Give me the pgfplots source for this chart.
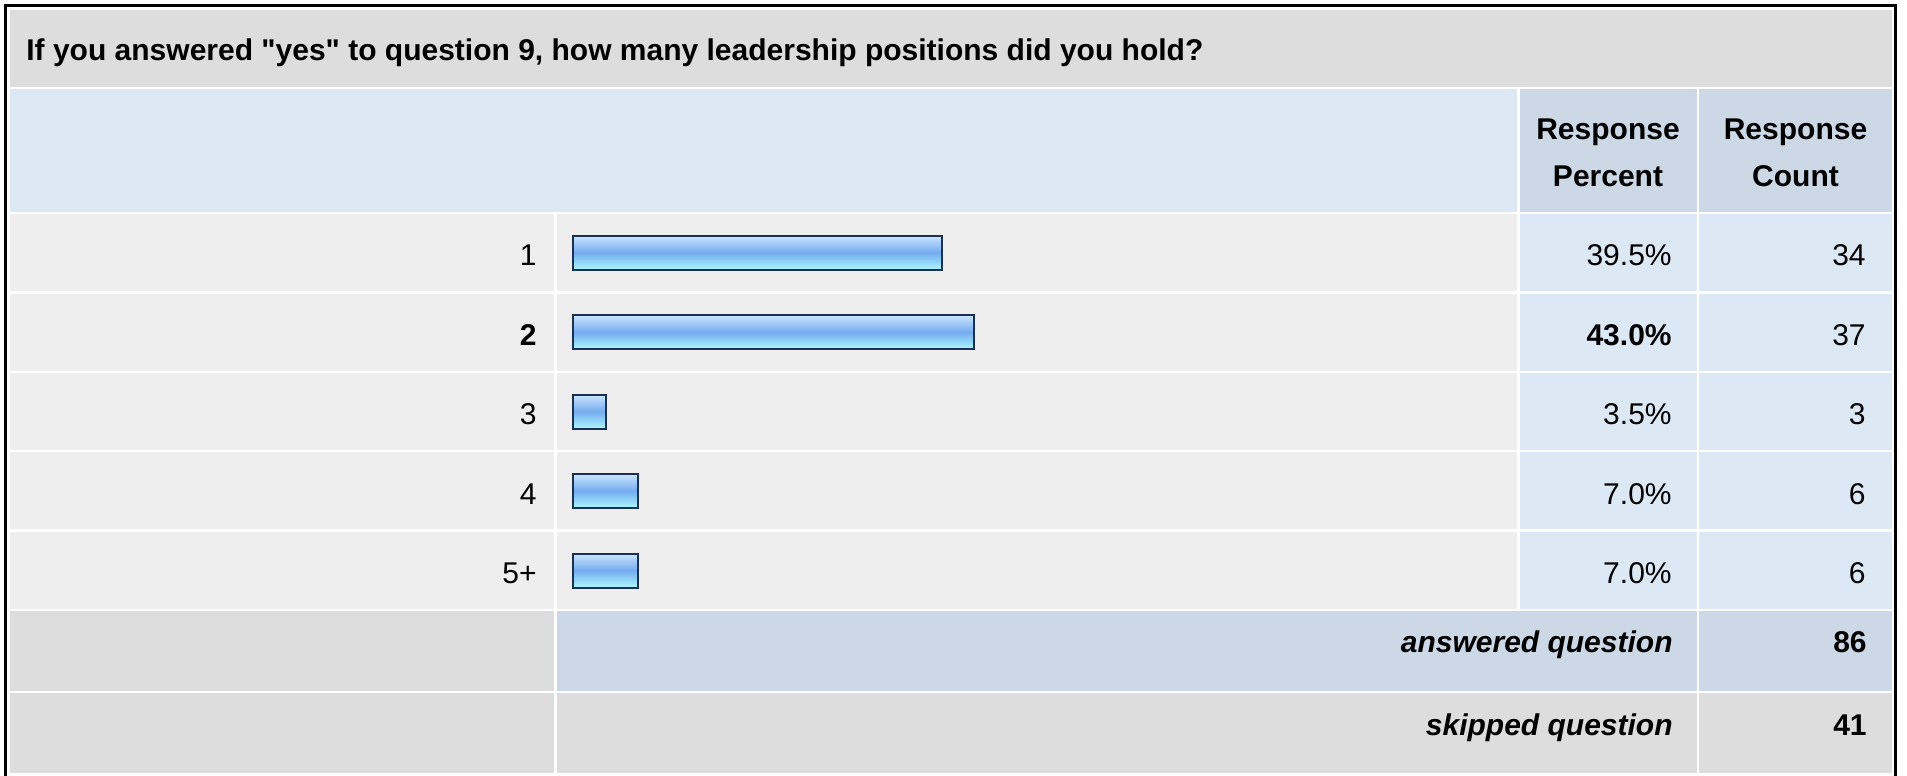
\documentclass[border=0pt]{standalone}
\usepackage{pgfplots}
\pgfplotsset{compat=1.18}
\usepackage{fontspec}
\setmainfont{Liberation Sans}[Ligatures=TeXOff]
\definecolor{titlegray}{HTML}{DDDDDD}
\definecolor{rowgray}{HTML}{EEEEEE}
\definecolor{lblue}{HTML}{DDE8F5}
\definecolor{mblue}{HTML}{CCD8E6}
\definecolor{barborder}{HTML}{1B3152}
\definecolor{bartop}{HTML}{CCE6FF}
\definecolor{barmid}{HTML}{74ACEF}
\definecolor{barbot}{HTML}{ACF6FF}
\newcommand\tf{\fontsize{15pt}{18pt}\selectfont}
\pgfplotsset{mybar/.style={xbar, bar shift=0pt, draw=barborder, line width=1pt,
    top color=bartop, bottom color=barbot, middle color=barmid, mark=none}}

\begin{document}
\begin{tikzpicture}
\begin{scope}[x=0.5pt,y=-0.5pt]
\fill[white] (0,0) rectangle (1907,776);
% frame
\fill[black] (4,4) rectangle (7,776);
\fill[black] (4,4) rectangle (1897,7);
\fill[black] (1894,4) rectangle (1897,776);
% title
\fill[titlegray] (10,10) rectangle (1892,87);
% header
\fill[lblue] (10,89) rectangle (1517,212);
\fill[mblue] (1520,89) rectangle (1697,212);
\fill[mblue] (1699,89) rectangle (1892,212);
% rows
\foreach \t/\b in {214/291,294/371,373/450,452/529,532/609}{
  \fill[rowgray] (10,\t) rectangle (554,\b);
  \fill[rowgray] (557,\t) rectangle (1517,\b);
  \fill[lblue] (1520,\t) rectangle (1697,\b);
  \fill[lblue] (1699,\t) rectangle (1892,\b);
}
% answered
\fill[titlegray] (10,611) rectangle (554,691);
\fill[mblue] (557,611) rectangle (1697,691);
\fill[mblue] (1699,611) rectangle (1892,691);
% skipped
\fill[titlegray] (10,693) rectangle (554,773);
\fill[titlegray] (557,693) rectangle (1697,773);
\fill[titlegray] (1699,693) rectangle (1892,773);
% texts
\node[anchor=base west, inner sep=0pt, font=\bfseries\tf] at (26,61) {If you answered "yes" to question 9, how many leadership positions did you hold?};
\node[anchor=base, inner sep=0pt, font=\bfseries\tf] at (1608,139.3) {Response};
\node[anchor=base, inner sep=0pt, font=\bfseries\tf] at (1608,186) {Percent};
\node[anchor=base, inner sep=0pt, font=\bfseries\tf] at (1795.5,139.3) {Response};
\node[anchor=base, inner sep=0pt, font=\bfseries\tf] at (1795.5,186) {Count};
\foreach \y/\p/\c in {265.7/39.5\%/34, 345.5/\textbf{43.0\%}/37, 424.5/3.5\%/3, 504/7.0\%/6, 583.5/7.0\%/6}{
  \node[anchor=base east, inner sep=0pt, font=\tf] at (1672,\y) {\p};
  \node[anchor=base east, inner sep=0pt, font=\tf] at (1866,\y) {\c};
}
\node[anchor=base east, inner sep=0pt, font=\bfseries\itshape\tf] at (1673,652.7) {answered question};
\node[anchor=base east, inner sep=0pt, font=\bfseries\tf] at (1867,652.7) {86};
\node[anchor=base east, inner sep=0pt, font=\bfseries\itshape\tf] at (1673,735) {skipped question};
\node[anchor=base east, inner sep=0pt, font=\bfseries\tf] at (1867,735) {41};
\end{scope}
\begin{axis}[
  at={(519.75pt,-205.75pt)}, anchor=center,
  width=466.5pt, height=198.75pt, scale only axis,
  xmin=0, xmax=100, ymin=0.5, ymax=5.5, y dir=reverse,
  enlargelimits=false, clip=false,
  axis line style={draw=none},
  xtick=\empty,
  ytick={1,2,3,4,5},
  yticklabels={1,\textbf{2},3,4,5+},
  major tick length=0pt, tick style={draw=none},
  yticklabel style={font=\tf, anchor=east, inner sep=0pt, xshift=-18pt, yshift=-1.5pt},
  bar width=17pt,
]
\addplot[mybar] coordinates {(39.5,1)};
\addplot[mybar] coordinates {(43.0,2)};
\addplot[mybar] coordinates {(3.5,3)};
\addplot[mybar] coordinates {(7.0,4)};
\addplot[mybar] coordinates {(7.0,5)};
\end{axis}
\end{tikzpicture}
\end{document}
